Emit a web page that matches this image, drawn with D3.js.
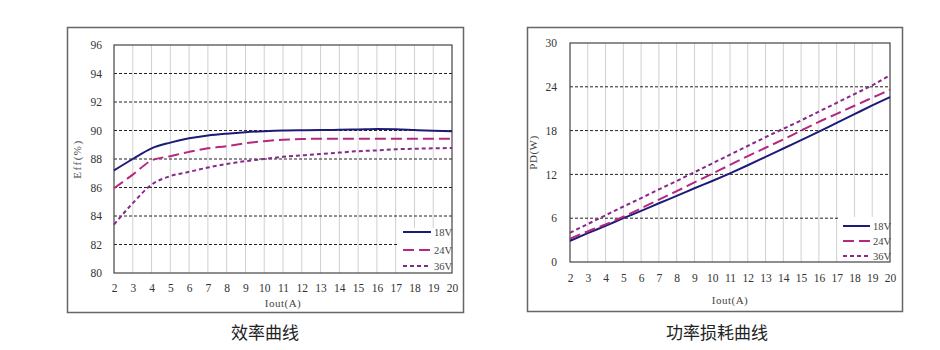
<!DOCTYPE html>
<html><head><meta charset="utf-8">
<script src="https://cdn.jsdelivr.net/npm/d3@7"></script>
<style>body{margin:0;background:#fff}svg{display:block}</style>
</head><body>
<svg id="c" width="940" height="350"></svg>
<script>
const xVals = [2,3,4,5,6,7,8,9,10,11,12,13,14,15,16,17,18,19,20];
const seriesNames = ["18V","24V","36V"];
const eff18 = [87.2,88.0,88.75,89.15,89.45,89.65,89.78,89.88,89.95,90.0,90.02,90.03,90.05,90.07,90.1,90.08,90.03,89.98,89.95];
const eff24 = [85.95,86.9,87.9,88.2,88.5,88.75,88.9,89.1,89.25,89.35,89.4,89.42,89.42,89.42,89.42,89.42,89.42,89.42,89.42];
const eff36 = [83.4,84.9,86.2,86.8,87.1,87.4,87.65,87.85,88.0,88.15,88.25,88.35,88.45,88.55,88.6,88.68,88.72,88.75,88.77];
const pd18 = [2.9,3.95,4.95,6.0,7.0,8.05,9.05,10.1,11.1,12.15,13.25,14.4,15.55,16.7,17.85,19.05,20.25,21.45,22.6];
const pd24 = [3.2,4.2,5.15,6.2,7.35,8.55,9.7,10.9,12.1,13.3,14.5,15.65,16.8,18.0,19.2,20.3,21.4,22.5,23.6];
const pd36 = [4.0,5.2,6.4,7.6,8.75,9.95,11.1,12.3,13.5,14.7,15.9,17.1,18.25,19.4,20.6,21.8,23.0,24.2,25.6];
const effTicks = [80,82,84,86,88,90,92,94,96];
const pdTicks = [0,6,12,18,24,30];
const effTitle = "效率曲线";
const pdTitle = "功率损耗曲线";

const colors = ["#1e1a78","#b5287f","#86298a"];
const dashes = [null,"11,5","4,3"];
const svg = d3.select("#c");
const serif = "'Liberation Serif','DejaVu Serif',serif";

function chart(o){
  const g = svg.append("g");
  g.append("rect").attr("x",o.frame[0]+0.5).attr("y",o.frame[1]+0.5)
   .attr("width",o.frame[2]-o.frame[0]).attr("height",o.frame[3]-o.frame[1])
   .attr("fill","#fff").attr("stroke","#666").attr("stroke-width",1.5);
  const x = d3.scaleLinear().domain([2,20]).range([o.l,o.r]);
  const y = d3.scaleLinear().domain(o.ydom).range([o.b,o.t]);
  const lg = o.legend;
  g.append("g").selectAll("line").data(xVals.slice(1,-1)).join("line")
   .attr("x1",d=>x(d)).attr("x2",d=>x(d)).attr("y1",o.t)
   .attr("y2",d=>x(d)>lg[0]?lg[1]:o.b)
   .attr("stroke","#d0d0d0").attr("stroke-width",1);
  g.append("g").selectAll("line").data(o.ticks.slice(1,-1)).join("line")
   .attr("x1",o.l).attr("x2",d=>y(d)>lg[1]?lg[0]:o.r).attr("y1",d=>y(d)).attr("y2",d=>y(d))
   .attr("stroke","#222").attr("stroke-width",1).attr("stroke-dasharray","3,2");
  g.append("rect").attr("x",o.l).attr("y",o.t).attr("width",o.r-o.l).attr("height",o.b-o.t)
   .attr("fill","none").attr("stroke","#444").attr("stroke-width",1.2);
  const ya = d3.axisLeft(y).tickValues(o.ticks).tickSize(0).tickPadding(o.ypad);
  const yg = g.append("g").attr("transform",`translate(${o.l},0)`).call(ya);
  yg.select(".domain").remove();
  yg.selectAll("text").attr("font-family",serif).attr("font-size",11.5).attr("fill","#333");
  const xa = d3.axisBottom(x).tickValues(xVals).tickSize(0).tickPadding(o.xpad);
  const xg = g.append("g").attr("transform",`translate(0,${o.b})`).call(xa);
  xg.select(".domain").remove();
  xg.selectAll("text").attr("font-family",serif).attr("font-size",11.5).attr("fill","#333");
  g.append("text").attr("x",(o.l+o.r)/2).attr("y",o.xtY).attr("text-anchor","middle")
   .attr("font-family",serif).attr("font-size",11).attr("letter-spacing",0.5).attr("fill","#444").text("Iout(A)");
  g.append("text").attr("transform",`translate(${o.ytX},${(o.t+o.b)/2}) rotate(-90)`)
   .attr("text-anchor","middle").attr("font-family",serif).attr("font-size",11)
   .attr("letter-spacing",o.ls).attr("fill","#444")
   .text(o.ylabel);
  const line = d3.line().x((d,i)=>x(xVals[i])).y(d=>y(d)).curve(d3.curveMonotoneX);
  o.data.forEach((s,i)=>{
    g.append("path").datum(s).attr("d",line).attr("fill","none")
     .attr("stroke",colors[i]).attr("stroke-width",2)
     .attr("stroke-dasharray",dashes[i]);
  });
  o.legY.forEach((ly,i)=>{
    g.append("line").attr("x1",o.legX[0]).attr("x2",o.legX[1]).attr("y1",ly).attr("y2",ly)
     .attr("stroke",colors[i]).attr("stroke-width",2).attr("stroke-dasharray",dashes[i]);
    g.append("text").attr("x",o.legX[1]+3).attr("y",ly+3.5)
     .attr("font-family",serif).attr("font-size",10.5).attr("fill","#444").text(seriesNames[i]);
  });
  g.append("text").attr("x",o.capX).attr("y",339).attr("text-anchor","middle")
   .attr("font-family","'Noto Sans CJK SC',sans-serif").attr("font-size",17).attr("fill","#222")
   .text(o.caption);
}

chart({frame:[67,27,463,312], l:114, r:452, t:45, b:273, ydom:[80,96], ticks:effTicks,
  ypad:12, xpad:11, xtY:307, ytX:81, ylabel:"Eff(%)", ls:1.5, data:[eff18,eff24,eff36],
  legend:[397,228], legX:[403,431], legY:[232,250,266], capX:265, caption:effTitle});
chart({frame:[527,27,902,311], l:570, r:890, t:43, b:262, ydom:[0,30], ticks:pdTicks,
  ypad:13, xpad:12, xtY:304, ytX:537, ylabel:"PD(W)", ls:0.5, data:[pd18,pd24,pd36],
  legend:[838,217], legX:[843,870], legY:[226,241,256], capX:717, caption:pdTitle});
</script>
</body></html>
